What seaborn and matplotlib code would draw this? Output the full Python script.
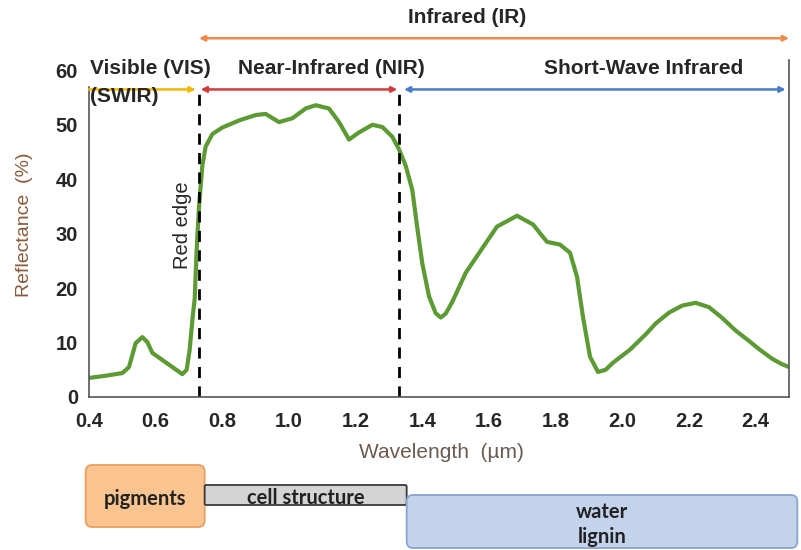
import matplotlib
matplotlib.use("Agg")
import matplotlib.pyplot as plt
import seaborn as sns
from matplotlib.patches import FancyBboxPatch

# spectral reflectance of green vegetation
wavelength = [0.40, 0.45, 0.50, 0.52, 0.54, 0.56, 0.575, 0.59, 0.62, 0.65,
              0.68, 0.693, 0.702, 0.711, 0.717, 0.723, 0.73, 0.74, 0.75, 0.77,
              0.80, 0.85, 0.90, 0.93, 0.97, 1.01, 1.05, 1.08, 1.12, 1.15,
              1.18, 1.21, 1.25, 1.28, 1.31, 1.33, 1.35, 1.37, 1.385, 1.40,
              1.42, 1.44, 1.455, 1.47, 1.49, 1.53, 1.573, 1.624, 1.684, 1.732, 1.774,
              1.813, 1.843, 1.864, 1.882, 1.903, 1.927, 1.95, 1.972, 2.023, 2.07,
              2.10, 2.14, 2.18, 2.22, 2.26, 2.30, 2.34, 2.38, 2.41, 2.45,
              2.48, 2.50]
reflectance = [3.5, 3.9, 4.4, 5.5, 9.9, 11.0, 10.1, 8.1, 6.8, 5.5,
               4.2, 5.0, 8.7, 14.7, 18.0, 27.0, 35.0, 42.5, 46.0, 48.3,
               49.5, 50.8, 51.8, 52.0, 50.5, 51.2, 53.0, 53.6, 53.0, 50.5,
               47.3, 48.6, 50.0, 49.6, 47.8, 45.5, 42.5, 38.0, 31.0, 24.5,
               18.5, 15.4, 14.6, 15.3, 17.5, 22.8, 26.7, 31.3, 33.3, 31.7, 28.5,
               28.0, 26.5, 22.1, 14.7, 7.4, 4.6, 5.0, 6.3, 8.7, 11.5,
               13.5, 15.5, 16.8, 17.3, 16.5, 14.5, 12.2, 10.3, 8.8, 7.0,
               6.0, 5.5]

x_ticks = [0.4, 0.6, 0.8, 1.0, 1.2, 1.4, 1.6, 1.8, 2.0, 2.2, 2.4]
y_ticks = [0, 10, 20, 30, 40, 50, 60]

# region boundaries (µm)
red_edge = 0.73
nir_end = 1.33

# absorber boxes under the axis: label, start, end
box_labels = ["pigments", "cell structure", "water\nlignin"]
box_start = [0.39, 0.747, 1.353]
box_end = [0.747, 1.353, 2.525]

sns.set_style("white")
plt.rcParams["font.family"] = ["Liberation Sans", "DejaVu Sans"]

fig = plt.figure(figsize=(8.01, 5.5), dpi=100)
ax = fig.add_axes([89 / 801, 1 - 397 / 550, 700 / 801, 337.5 / 550])

sns.lineplot(x=wavelength, y=reflectance, color="#5c9a34", linewidth=3, ax=ax,
             solid_joinstyle="round", solid_capstyle="round")

ax.set_xlim(0.4, 2.5)
ax.set_ylim(0, 62)
ax.set_xticks(x_ticks)
ax.set_yticks(y_ticks)
ax.set_xticklabels([f"{t:.1f}" for t in x_ticks], fontsize=14.5, fontweight="bold")
ax.set_yticklabels([str(t) for t in y_ticks], fontsize=14.5, fontweight="bold")
ax.tick_params(axis="x", direction="out", length=4, color="#888888", pad=7)
ax.tick_params(axis="y", length=0, pad=8)

ax.spines["top"].set_visible(False)
for s in ["left", "bottom", "right"]:
    ax.spines[s].set_color("#555555")
    ax.spines[s].set_linewidth(1.2)
ax.spines["left"].set_bounds(0, 57)

ax.set_ylabel("Reflectance  (%)", fontsize=14, color="#8a5a3a")
ax.yaxis.set_label_coords(-0.08, 0.51)
ax.set_xlabel("Wavelength  (µm)", fontsize=15, color="#6b5a50")
ax.xaxis.set_label_coords(0.503, -0.136)

# dashed boundaries
for xv in [red_edge, nir_end]:
    ax.plot([xv, xv], [0, 57], color="black", linestyle=(0, (4, 3)), linewidth=2)

ax.text(0.68, 31.5, "Red edge", rotation=90, fontsize=14.5, ha="center", va="center")


def span_arrow(x1, x2, y, color, style):
    ax.annotate("", xy=(x2, y), xytext=(x1, y),
                arrowprops=dict(arrowstyle=style, color=color, lw=1.8,
                                shrinkA=0, shrinkB=0, mutation_scale=8),
                annotation_clip=False)


span_arrow(0.73, 2.5, 65.9, "#f08a4b", "<|-|>")
span_arrow(0.40, 0.72, 56.5, "#f5b800", "-|>")
span_arrow(0.735, 1.325, 56.5, "#d03c3c", "<|-|>")
span_arrow(1.345, 2.49, 56.5, "#4a7ec8", "<|-|>")

ax.text(1.535, 69.8, "Infrared (IR)", fontsize=15, fontweight="bold",
        ha="center", va="center", clip_on=False)
ax.text(0.402, 60.4, "Visible (VIS)", fontsize=15, fontweight="bold",
        ha="left", va="center", clip_on=False)
ax.text(0.402, 55.2, "(SWIR)", fontsize=15, fontweight="bold",
        ha="left", va="center", clip_on=False)
ax.text(1.126, 60.4, "Near-Infrared (NIR)", fontsize=15, fontweight="bold",
        ha="center", va="center", clip_on=False)
ax.text(2.065, 60.4, "Short-Wave Infrared", fontsize=15, fontweight="bold",
        ha="center", va="center", clip_on=False)

# absorber boxes, placed in figure coordinates
to_fig = ax.transData + fig.transFigure.inverted()
box_y = [(465, 527), (485, 505), (495, 548)]
box_face = ["#f9c48f", "#d4d4d4", "#c3d3ec"]
box_edge = ["#e8a060", "#3a3a3a", "#8aa4cc"]
aspect = 801 / 550
for lab, x0, x1, (ytop, ybot), fc, ec in zip(box_labels, box_start, box_end,
                                             box_y, box_face, box_edge):
    fx0 = to_fig.transform((x0, 0))[0]
    fx1 = to_fig.transform((x1, 0))[0]
    fy0 = 1 - ybot / 550
    fy1 = 1 - ytop / 550
    r = 0.008 if lab != "cell structure" else 0.002
    patch = FancyBboxPatch((fx0, fy0), fx1 - fx0, fy1 - fy0,
                           boxstyle=f"round,pad=0,rounding_size={r}",
                           mutation_aspect=aspect, transform=fig.transFigure,
                           facecolor=fc, edgecolor=ec, linewidth=1.3)
    fig.add_artist(patch)
    fig.text((fx0 + fx1) / 2, (fy0 + fy1) / 2 - 0.005, lab, ha="center",
             va="center", fontsize=14.5, fontweight="bold",
             family=["Lato", "DejaVu Sans"], linespacing=1.3, color="#222222")

fig.savefig("out.png", dpi=100)
